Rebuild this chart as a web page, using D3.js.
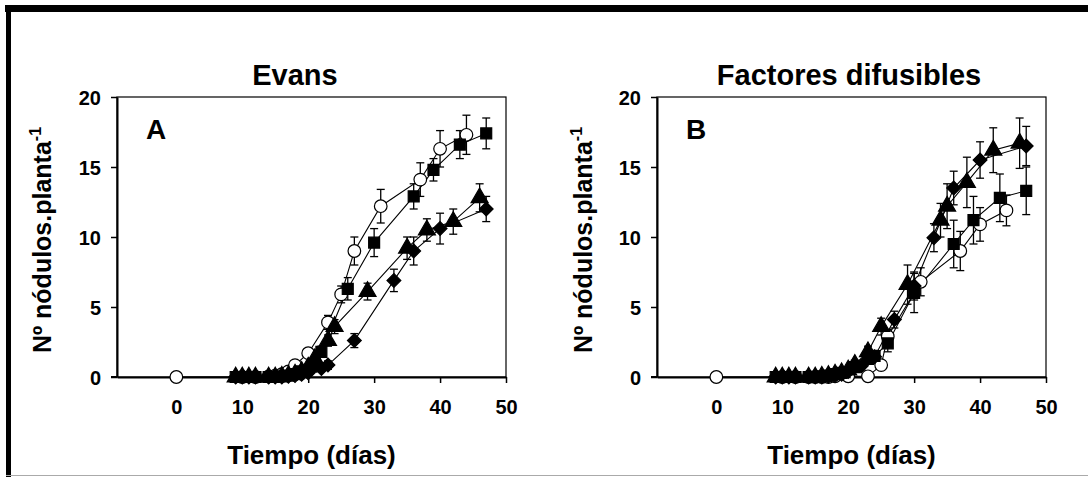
<!DOCTYPE html>
<html><head><meta charset="utf-8">
<script src="https://cdn.jsdelivr.net/npm/d3@7"></script>
<style>html,body{margin:0;padding:0;background:#fff;}svg{display:block;}</style>
</head><body>
<script>
// ---- data ----
const panelTitles = ["Evans", "Factores difusibles"];
const panelLetters = ["A", "B"];
const xTicks = [0, 10, 20, 30, 40, 50];
const yTicks = [0, 5, 10, 15, 20];
const yLabel = "Nº nódulos.planta";
const xLabel = "Tiempo (días)";

// Panel A
const aCircleT = [0, 10, 12, 14, 15, 16, 17, 18, 20, 23, 25, 27, 31, 37, 40, 44];
const aCircleV = [0, 0, 0, 0.05, 0.1, 0.2, 0.4, 0.85, 1.7, 3.9, 5.9, 9.0, 12.2, 14.1, 16.3, 17.3];
const aCircleE = [0, 0, 0, 0, 0, 0, 0.1, 0.2, 0.3, 0.5, 0.6, 1.0, 1.2, 1.2, 1.3, 1.4];
const aSquareT = [9, 10, 11, 12, 14, 15, 16, 17, 18, 19, 21, 22, 26, 30, 36, 39, 43, 47];
const aSquareV = [0, 0, 0, 0, 0, 0, 0.05, 0.1, 0.2, 0.4, 0.9, 1.8, 6.3, 9.6, 12.9, 14.8, 16.6, 17.4];
const aSquareE = [0, 0, 0, 0, 0, 0, 0, 0.1, 0.1, 0.2, 0.3, 0.4, 0.8, 1.0, 0.9, 0.8, 1.0, 1.1];
const aTriT = [9, 10, 11, 12, 14, 15, 16, 17, 18, 19, 20, 21, 23, 24, 29, 35, 38, 42, 46];
const aTriV = [0, 0, 0, 0, 0, 0, 0.05, 0.1, 0.2, 0.4, 0.7, 1.3, 2.6, 3.6, 6.1, 9.2, 10.5, 11.1, 12.8];
const aTriE = [0, 0, 0, 0, 0, 0, 0, 0, 0.1, 0.2, 0.2, 0.3, 0.4, 0.5, 0.6, 0.8, 0.8, 0.9, 1.0];
const aDiaT = [9, 10, 11, 12, 14, 15, 16, 17, 18, 19, 20, 22, 23, 27, 33, 36, 40, 47];
const aDiaV = [0, 0, 0, 0, 0, 0, 0, 0.05, 0.1, 0.2, 0.3, 0.6, 0.85, 2.6, 6.9, 9.0, 10.6, 12.0];
const aDiaE = [0, 0, 0, 0, 0, 0, 0, 0, 0.1, 0.1, 0.1, 0.2, 0.3, 0.5, 0.8, 1.0, 1.1, 0.9];

// Panel B
const bCircleT = [0, 10, 12, 14, 15, 16, 17, 18, 20, 23, 25, 26, 31, 37, 40, 44];
const bCircleV = [0, 0, 0, 0, 0, 0, 0, 0.05, 0.05, 0.05, 0.85, 2.9, 6.8, 9.0, 10.9, 11.9];
const bCircleE = [0, 0, 0, 0, 0, 0, 0, 0, 0, 0.1, 0.3, 0.5, 1.0, 1.4, 1.2, 1.1];
const bSquareT = [9, 10, 11, 12, 14, 15, 16, 17, 18, 19, 21, 23, 24, 26, 30, 36, 39, 43, 47];
const bSquareV = [0, 0, 0, 0, 0, 0, 0.05, 0.1, 0.2, 0.3, 0.7, 1.3, 1.5, 2.4, 6.0, 9.5, 11.2, 12.8, 13.3];
const bSquareE = [0, 0, 0, 0, 0, 0, 0, 0.1, 0.1, 0.1, 0.2, 0.3, 0.4, 0.6, 1.4, 1.7, 1.7, 1.7, 1.7];
const bTriT = [9, 10, 11, 12, 14, 15, 16, 17, 18, 19, 20, 21, 23, 25, 29, 34, 35, 38, 42, 46];
const bTriV = [0, 0, 0, 0, 0, 0, 0.05, 0.1, 0.2, 0.3, 0.5, 0.9, 1.8, 3.6, 6.6, 11.2, 12.2, 13.9, 16.2, 16.7];
const bTriE = [0, 0, 0, 0, 0, 0, 0, 0.1, 0.1, 0.1, 0.2, 0.3, 0.4, 0.6, 1.4, 1.2, 1.6, 1.8, 1.6, 1.8];
const bDiaT = [9, 10, 11, 12, 14, 15, 16, 17, 18, 19, 20, 22, 24, 27, 30, 33, 36, 40, 47];
const bDiaV = [0, 0, 0, 0, 0, 0, 0, 0.05, 0.1, 0.2, 0.4, 0.8, 1.45, 4.1, 6.5, 9.95, 13.5, 15.5, 16.5];
const bDiaE = [0, 0, 0, 0, 0, 0, 0, 0, 0.1, 0.1, 0.2, 0.3, 0.4, 0.6, 1.0, 1.0, 1.2, 1.3, 1.4];

const panels = [
  {series: [
    {t: aCircleT, v: aCircleV, e: aCircleE, sym: "circle"},
    {t: aSquareT, v: aSquareV, e: aSquareE, sym: "square"},
    {t: aTriT, v: aTriV, e: aTriE, sym: "triangle"},
    {t: aDiaT, v: aDiaV, e: aDiaE, sym: "diamond"}
  ]},
  {series: [
    {t: bCircleT, v: bCircleV, e: bCircleE, sym: "circle"},
    {t: bSquareT, v: bSquareV, e: bSquareE, sym: "square"},
    {t: bTriT, v: bTriV, e: bTriE, sym: "triangle"},
    {t: bDiaT, v: bDiaV, e: bDiaE, sym: "diamond"}
  ]}
];

// ---- layout ----
const W = 1088, H = 477;
const svg = d3.select("body").append("svg").attr("width", W).attr("height", H)
  .style("font-family", "'Liberation Sans', Arial, sans-serif");

// outer frame
svg.append("rect").attr("x", 5).attr("y", 5).attr("width", W - 5).attr("height", 7).attr("fill", "#000");
svg.append("rect").attr("x", 6).attr("y", 5).attr("width", 5).attr("height", H - 5).attr("fill", "#000");
svg.append("line").attr("x1", 6).attr("x2", W).attr("y1", 475.5).attr("y2", 475.5).attr("stroke", "#aaa").attr("stroke-width", 1);

const boxes = [{x0: 117, x1: 506, tx: 295, yl: 42}, {x0: 657, x1: 1046, tx: 849, yl: 583}];
const yTop = 97, yBot = 377;

const symSize = {circle: 125, square: 120, triangle: 125, diamond: 95};
const symType = {circle: d3.symbolCircle, square: d3.symbolSquare, triangle: d3.symbolTriangle, diamond: d3.symbolSquare};
const symRot = {circle: 0, square: 0, triangle: 0, diamond: 45};

panels.forEach((p, i) => {
  const b = boxes[i];
  const x = d3.scaleLinear().domain([-9, 50]).range([b.x0, b.x1]);
  const y = d3.scaleLinear().domain([0, 20]).range([yBot, yTop]);
  const g = svg.append("g");

  // frame box
  g.append("rect").attr("x", b.x0).attr("y", yTop).attr("width", b.x1 - b.x0).attr("height", yBot - yTop)
    .attr("fill", "none").attr("stroke", "#000").attr("stroke-width", 1.2);

  // axes
  const xa = g.append("g").attr("transform", `translate(0,${yBot})`)
    .call(d3.axisBottom(x).tickValues(xTicks).tickSize(6).tickSizeOuter(0).tickPadding(17));
  xa.select(".domain").attr("stroke-width", 2);
  xa.selectAll(".tick line").attr("stroke-width", 1.5);
  xa.selectAll("text").attr("font-size", 20).attr("font-weight", "bold").attr("fill", "#000");

  const ya = g.append("g").attr("transform", `translate(${b.x0},0)`)
    .call(d3.axisLeft(y).tickValues(yTicks).tickSize(6).tickSizeOuter(0).tickPadding(10));
  ya.select(".domain").attr("stroke-width", 2);
  ya.selectAll(".tick line").attr("stroke-width", 1.5);
  ya.selectAll("text").attr("font-size", 20).attr("font-weight", "bold").attr("fill", "#000").attr("dy", "0.36em");
  g.append("line").attr("x1", b.x0 - 6).attr("x2", b.x0).attr("y1", yBot).attr("y2", yBot).attr("stroke", "#000").attr("stroke-width", 2);

  // titles
  g.append("text").attr("x", b.tx).attr("y", 85).attr("text-anchor", "middle")
    .attr("font-size", 29).attr("font-weight", "bold").text(panelTitles[i]);
  g.append("text").attr("x", b.x0 + 29).attr("y", 139).attr("font-size", 28).attr("font-weight", "bold").text(panelLetters[i]);
  g.append("text").attr("x", (b.x0 + b.x1) / 2).attr("y", 464).attr("text-anchor", "middle")
    .attr("font-size", 26).attr("font-weight", "bold").text(xLabel);
  const yl = g.append("text").attr("transform", `translate(${b.yl + 9},${(yTop + yBot) / 2 + 3}) rotate(-90)`)
    .attr("text-anchor", "middle").attr("font-size", 25).attr("font-weight", "bold");
  yl.append("tspan").text(yLabel);
  yl.append("tspan").attr("dy", -10).attr("font-size", 16).text("-1");

  // lines
  const line = d3.line().x(d => x(d[0])).y(d => y(d[1]));
  p.series.forEach(s => {
    const pts = s.t.map((t, k) => [t, s.v[k], s.e[k]]);
    g.append("path").datum(pts).attr("d", line).attr("fill", "none").attr("stroke", "#000").attr("stroke-width", 1.1);
  });
  // error bars
  p.series.forEach(s => {
    const pts = s.t.map((t, k) => [t, s.v[k], s.e[k]]).filter(d => d[2] > 0.25);
    const eg = g.append("g").attr("stroke", "#000").attr("stroke-width", 1.3);
    pts.forEach(d => {
      eg.append("line").attr("x1", x(d[0])).attr("x2", x(d[0])).attr("y1", y(d[1] - d[2])).attr("y2", y(d[1] + d[2]));
      [d[1] - d[2], d[1] + d[2]].forEach(vv => {
        eg.append("line").attr("x1", x(d[0]) - 4).attr("x2", x(d[0]) + 4).attr("y1", y(vv)).attr("y2", y(vv));
      });
    });
  });
  // markers
  p.series.forEach(s => {
    const pts = s.t.map((t, k) => [t, s.v[k]]);
    const sym = d3.symbol().type(symType[s.sym]).size(symSize[s.sym]);
    g.append("g").selectAll("path").data(pts).join("path")
      .attr("transform", d => `translate(${x(d[0])},${y(d[1])}) rotate(${symRot[s.sym]})`)
      .attr("d", sym)
      .attr("fill", s.sym === "circle" ? "#fff" : "#000")
      .attr("stroke", "#000").attr("stroke-width", 1.2);
  });
});
</script>
</body></html>
